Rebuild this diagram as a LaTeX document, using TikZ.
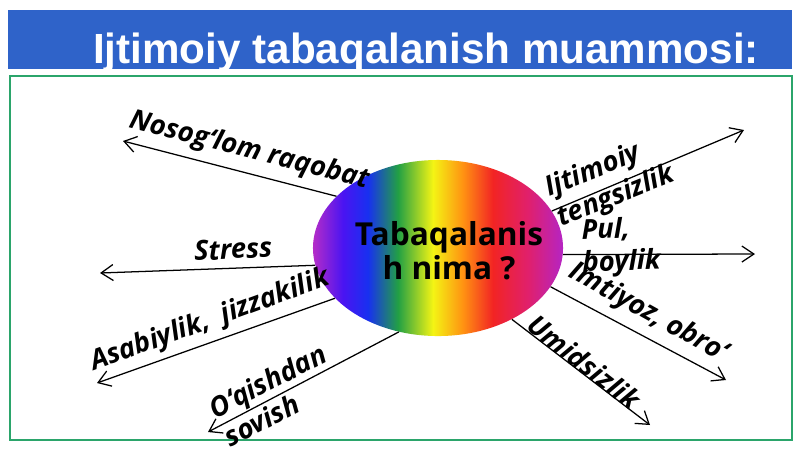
\documentclass[tikz,border=0pt]{standalone}
\usepackage{fontspec}
\setmainfont{Open Sans}
\newfontfamily\titlefont{Liberation Sans}
\usepackage{tikz}
\usetikzlibrary{arrows.meta, shapes.geometric}
\definecolor{barblue}{HTML}{2F63C9}
\definecolor{boxgreen}{HTML}{2BA56B}
\definecolor{rbA}{HTML}{B52CC8}
\definecolor{rbB}{HTML}{4A14F2}
\definecolor{rbC}{HTML}{1830F0}
\definecolor{rbD}{HTML}{22A044}
\definecolor{rbE}{HTML}{F4F414}
\definecolor{rbF}{HTML}{FF9212}
\definecolor{rbG}{HTML}{F22424}
\definecolor{rbH}{HTML}{E0206C}
\definecolor{rbI}{HTML}{B524C4}
\pgfdeclarehorizontalshading{rainbow}{100bp}{color(0bp)=(rbA); color(25bp)=(rbA);
  color(31bp)=(rbB); color(36bp)=(rbC); color(42bp)=(rbD); color(49bp)=(rbE);
  color(55bp)=(rbF); color(61bp)=(rbG); color(68bp)=(rbH); color(75bp)=(rbI);
  color(100bp)=(rbI)}
\tikzset{
>={Straight Barb[length=3mm,width=4mm]}, % open arrow heads
x=0.025cm, y=-0.025cm, % one unit is one pixel of the slide
spoke/.style={->, line width=0.9pt}, % lines out of the ellipse
lbl/.style={font=\fontsize{19.5}{23}\selectfont\bfseries\itshape, inner sep=1pt, align=left}, % slanted labels
}
\begin{document}
\begin{tikzpicture}
  \useasboundingbox[fill=white] (0,0) rectangle (800,450);
  % title bar
  \fill[barblue] (8,10) rectangle (792,69);
  \node[anchor=base, text=white, font=\titlefont\fontsize{30}{34}\selectfont\bfseries] (ttl) at (426,63) {Ijtimoiy tabaqalanish muammosi:};
  \draw[boxgreen, line width=2pt] (10,76) rectangle (792,440);
  % the ellipse
  \node[ellipse, shading=rainbow, minimum width=6.25cm, minimum height=4.4cm, inner sep=0pt] (tb) at (438,248) {};
  \node[font=\fontsize{22.5}{24}\selectfont\bfseries, align=center] (q) at (449,251) {Tabaqalanis\\h nima ?};
  % arrow ends
  \coordinate (e1) at (123,141);
  \coordinate (e2) at (100,273);
  \coordinate (e3) at (97,383);
  \coordinate (e4) at (208,432);
  \coordinate (e5) at (744,130);
  \coordinate (e6) at (755,254);
  \coordinate (e7) at (726,380);
  \coordinate (e8) at (650,425);
  \draw[spoke] (tb.153) -- (e1);
  \draw[spoke] (tb.188) -- (e2);
  \draw[spoke] (tb.206) -- (e3);
  \draw[spoke] (tb.245) -- (e4);
  \draw[spoke] (tb.18) -- (e5);
  \draw[spoke] (tb.-3) -- (e6);
  \draw[spoke] (tb.-19) -- (e7);
  \draw[spoke] (tb.-44) -- (e8);
  % labels
  \node[lbl, rotate=-14.5] (l1) at (249,151) {Nosog‘lom raqobat};
  \node[lbl, rotate=3] (l2) at (233,249) {Stress};
  \node[lbl, rotate=20] (l3) at (210,321) {Asabiylik,\ \ jizzakilik};
  \node[lbl, rotate=27.5] (l4) at (275,395) {O‘qishdan\\sovish};
  \node[lbl, rotate=22] (l5) at (610,182) {Ijtimoiy\\tengsizlik};
  \node[lbl, rotate=2] (l6) at (621,247) {Pul,\\boylik};
  \node[lbl, rotate=-29] (l7) at (648,313) {Imtiyoz, obro‘};
  \node[lbl, rotate=-38] (l8) at (584,362) {Umidsizlik};
\end{tikzpicture}
\end{document}
